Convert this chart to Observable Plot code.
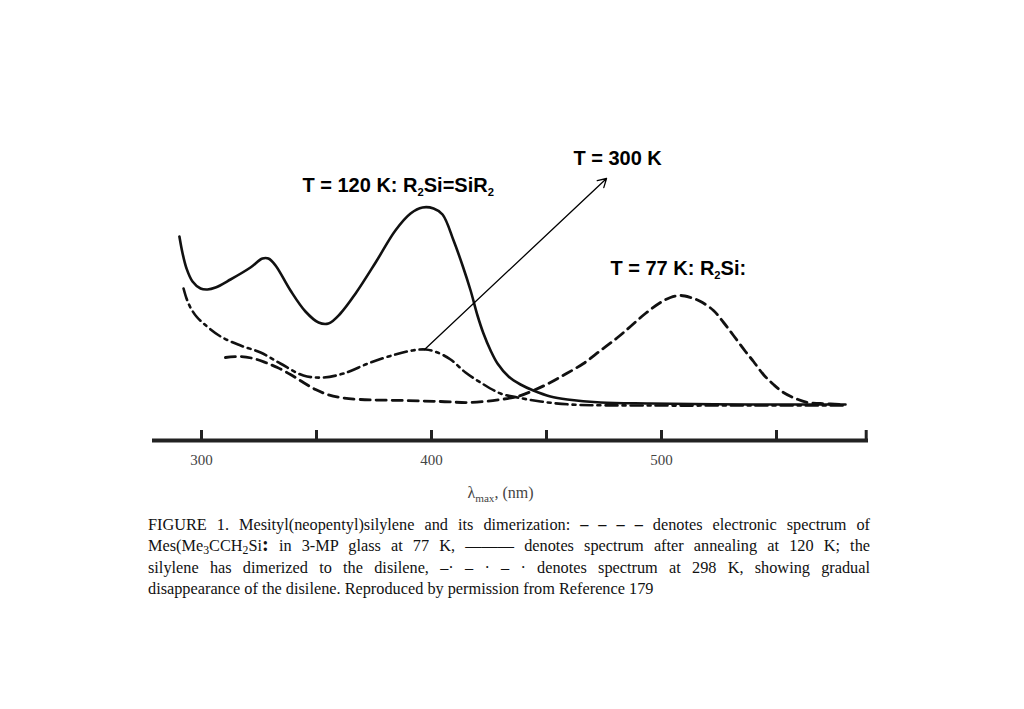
<!DOCTYPE html>
<html>
<head>
<meta charset="utf-8">
<script src="https://cdn.jsdelivr.net/npm/d3@7"></script>
<script src="https://cdn.jsdelivr.net/npm/@observablehq/plot@0.6"></script>
<style>
  html, body { margin: 0; padding: 0; background: #fff; }
  #wrap { position: relative; width: 1024px; height: 709px; overflow: hidden; }
  #chart svg { display: block; }
  #caption { position: absolute; left: 148px; top: 514px; width: 722px;
    font-family: "Liberation Serif", "Times New Roman", serif; font-size: 16.3px; line-height: 21.3px; color: #111; }
  #caption .l { text-align: justify; text-align-last: justify; white-space: nowrap; }
  #caption .l.last { text-align-last: left; }
  #caption sub { font-size: 0.72em; vertical-align: -0.25em; line-height: 0; }
</style>
</head>
<body>
<div id="wrap">
  <div id="chart"></div>
  <div id="caption">
    <div class="l">FIGURE 1. Mesityl(neopentyl)silylene and its dimerization: <b>– – – –</b> denotes electronic spectrum of</div>
    <div class="l">Mes(Me<sub>3</sub>CCH<sub>2</sub>Si<b style="font-size:1.25em;line-height:0">:</b> in 3-MP glass at 77 K, ——— denotes spectrum after annealing at 120 K; the</div>
    <div class="l">silylene has dimerized to the disilene, –· – · – · denotes spectrum at 298 K, showing gradual</div>
    <div class="l last">disappearance of the disilene. Reproduced by permission from Reference 179</div>
  </div>
</div>
<script>
// ---- data (wavelength in nm, absorbance in arbitrary units) ----
const nm120 = [290.4, 291.7, 293.5, 296.1, 299.6, 302.6, 306.1, 312.6, 321.3, 326.5, 329.1, 332.2, 338.7, 345.2, 350.9, 355.2, 360.4, 367.0, 375.7, 384.3, 390.9, 396.1, 400.9, 404.8, 409.6, 413.5, 417.0, 420.0, 422.6, 425.7, 428.7, 433.5, 438.7, 444.3, 451.7, 459.1, 473.5, 495.2, 538.7, 580.0];
const abs120 = [0.845, 0.765, 0.685, 0.62, 0.585, 0.58, 0.59, 0.63, 0.69, 0.735, 0.735, 0.70, 0.575, 0.47, 0.415, 0.41, 0.46, 0.56, 0.715, 0.875, 0.96, 0.99, 0.985, 0.955, 0.825, 0.70, 0.575, 0.45, 0.36, 0.275, 0.21, 0.145, 0.105, 0.075, 0.045, 0.03, 0.015, 0.01, 0.005, 0.005];

const nm300 = [292.2, 293.5, 295.2, 297.8, 300.9, 308.3, 317.0, 325.7, 334.3, 344.3, 353.0, 361.7, 373.5, 384.3, 391.7, 397.4, 402.6, 408.3, 414.8, 421.3, 430.0, 437.4, 447.4, 460.4, 495.2, 538.7, 580.0];
const abs300 = [0.585, 0.535, 0.49, 0.445, 0.41, 0.345, 0.30, 0.265, 0.21, 0.15, 0.14, 0.16, 0.215, 0.255, 0.275, 0.28, 0.265, 0.23, 0.165, 0.115, 0.06, 0.04, 0.02, 0.005, 0.0, 0.0, 0.0];

const nm77 = [310.4, 317.0, 322.6, 327.8, 333.0, 338.7, 344.3, 349.6, 354.8, 360.4, 369.1, 387.8, 403.9, 417.0, 430.0, 437.4, 444.3, 451.7, 458.7, 466.1, 473.5, 480.9, 486.5, 493.0, 499.6, 503.9, 508.3, 512.6, 517.0, 522.6, 527.0, 531.3, 536.5, 540.0, 544.3, 548.7, 553.0, 558.3, 563.5, 569.1, 579.1];
const abs77 = [0.24, 0.245, 0.235, 0.215, 0.19, 0.155, 0.115, 0.08, 0.055, 0.04, 0.03, 0.025, 0.02, 0.015, 0.03, 0.045, 0.075, 0.115, 0.16, 0.21, 0.275, 0.34, 0.395, 0.46, 0.515, 0.54, 0.55, 0.54, 0.52, 0.475, 0.415, 0.35, 0.27, 0.22, 0.155, 0.105, 0.065, 0.035, 0.015, 0.01, 0.005];

const tickValues = [300, 350, 400, 450, 500, 550, 589];
const tickLabels = [300, 400, 500];
const axisStart = 278.7, axisEnd = 590;
const axisLevel = -0.175;
const axisTitle = "λ_{max}, (nm)";
const axisTitleNm = 430;

const annLabels = ["T = 300 K", "T = 120 K: R_{2}Si=SiR_{2}", "T = 77 K: R_{2}Si:"];
const annNm = [461.7, 343.9, 477.8];
const annAbs = [1.235, 1.10, 0.685];

const arrowFrom = [397.0, 0.28];
const arrowTo = [476.1, 1.135];

// ---- build tables ----
const s120 = nm120.map((x, i) => ({x, y: abs120[i]}));
const s300 = nm300.map((x, i) => ({x, y: abs300[i]}));
const s77 = nm77.map((x, i) => ({x, y: abs77[i]}));
const ann = annLabels.map((t, i) => ({t, x: annNm[i], y: annAbs[i]}));

const chart = Plot.plot({
  width: 1024,
  height: 709,
  marginLeft: 152,
  marginRight: 156,
  marginTop: 5,
  marginBottom: 104,
  x: {domain: [axisStart, axisEnd], axis: null},
  y: {domain: [-1, 2], axis: null},
  style: {background: "#fff", overflow: "visible"},
  marks: [
    Plot.line(s120, {x: "x", y: "y", curve: "catmull-rom", stroke: "#111", strokeWidth: 2.6}),
    Plot.line(s300, {x: "x", y: "y", curve: "catmull-rom", stroke: "#111", strokeWidth: 2.6, strokeDasharray: "12,5,3,5"}),
    Plot.line(s77, {x: "x", y: "y", curve: "catmull-rom", stroke: "#111", strokeWidth: 2.8, strokeDasharray: "10,6"}),
    Plot.arrow([{a: 1}], {x1: () => arrowFrom[0], y1: () => arrowFrom[1], x2: () => arrowTo[0], y2: () => arrowTo[1], stroke: "#000", strokeWidth: 1.3, headLength: 11, bend: 0}),
    Plot.ruleY([axisLevel], {x1: axisStart, x2: axisEnd, stroke: "#222", strokeWidth: 4}),
    Plot.ruleX(tickValues, {x: d => d, y1: axisLevel, y2: axisLevel + 0.05, stroke: "#222", strokeWidth: 3}),
    Plot.text(tickLabels, {x: d => d, y: -0.275, text: d => String(d), fontFamily: "Liberation Serif", fontSize: 15, fill: "#444"}),
    Plot.text([axisTitle], {x: () => axisTitleNm, y: -0.435, text: d => d, fontFamily: "Liberation Serif", fontSize: 16, fill: "#444"}),
    Plot.text(ann, {x: "x", y: "y", text: "t", textAnchor: "start", fontFamily: "Liberation Sans", fontWeight: "bold", fontSize: 20, fill: "#000"})
  ]
});

// subscripts: turn _{..} into lowered, smaller tspans
d3.select(chart).selectAll("text").each(function () {
  const t = this.textContent;
  if (!t.includes("_{")) return;
  const el = d3.select(this);
  const fs = parseFloat(el.attr("font-size")) || parseFloat(getComputedStyle(this).fontSize) || 16;
  el.selectAll("*").remove();
  el.text(null);
  const parts = t.split(/(_\{[^}]*\})/).filter(p => p.length);
  let lowered = false;
  parts.forEach(p => {
    if (p.startsWith("_{")) {
      el.append("tspan").attr("dy", fs * 0.28).attr("font-size", fs * 0.7).text(p.slice(2, -1));
      lowered = true;
    } else {
      const ts = el.append("tspan").text(p);
      if (lowered) { ts.attr("dy", -fs * 0.28); lowered = false; }
    }
  });
});

document.getElementById("chart").appendChild(chart);
</script>
</body>
</html>
